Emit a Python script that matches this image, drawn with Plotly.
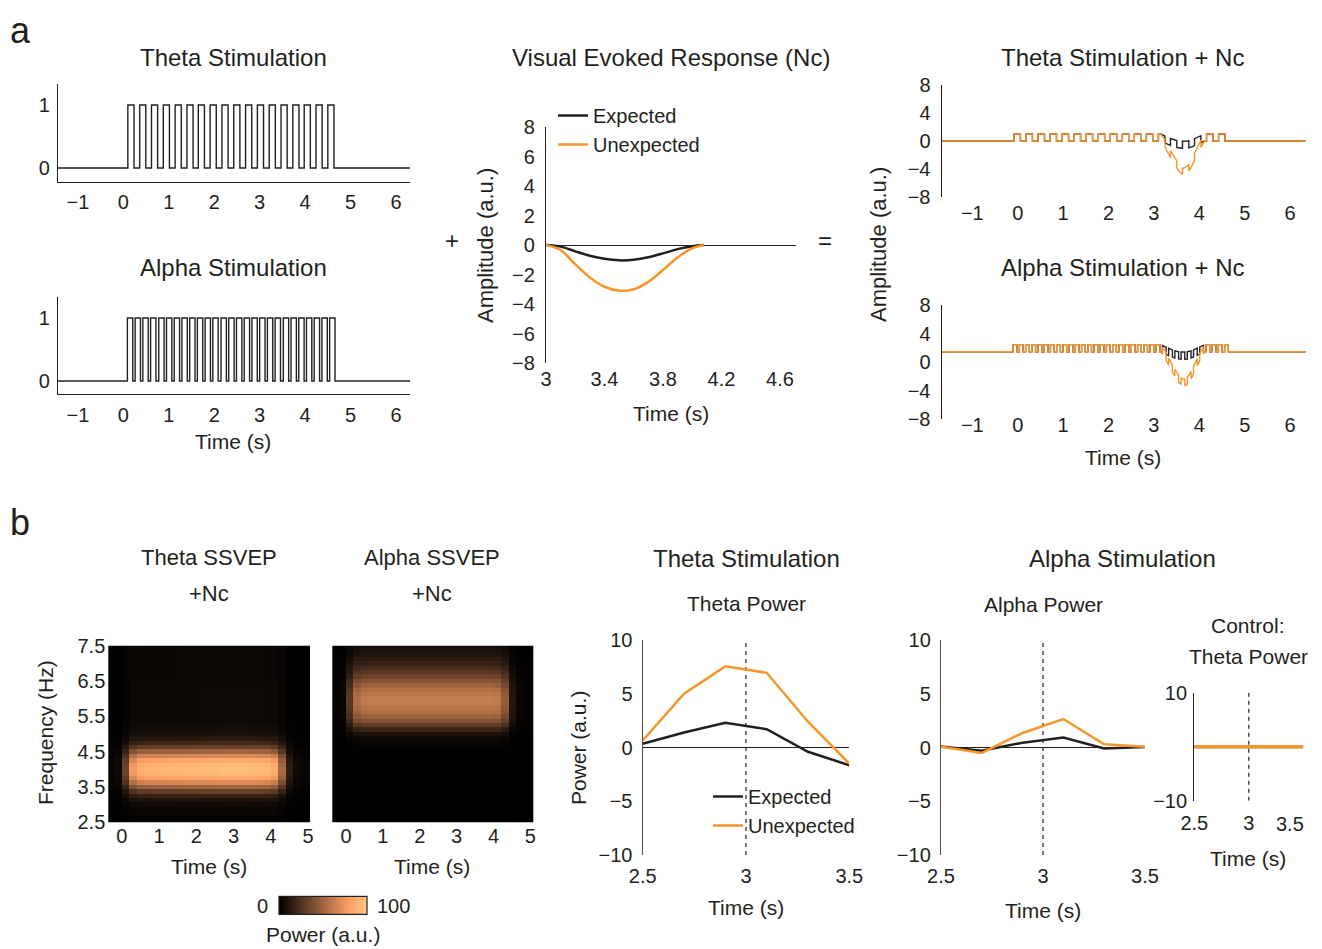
import numpy as np
import plotly.graph_objects as go

W, H = 1322, 949
OFF = 8  # page body margin of the html page, compensated in all placements
FONT = "Liberation Sans, Arial, Helvetica, sans-serif"
BLACK = "#231f20"
ORANGE = "#f5962a"
GRAY = "#4d4d4d"

# ---------------- data ----------------
# (a) stimulation pulse trains (onset times in s, pulse duration in s)
theta_onsets = [0.10, 0.36, 0.62, 0.88, 1.14, 1.40, 1.65, 1.91, 2.17,
                2.43, 2.69, 2.95, 3.21, 3.47, 3.73, 3.98, 4.24, 4.50]
theta_width = 0.135
alpha_onsets = [0.09, 0.26, 0.43, 0.60, 0.78, 0.95, 1.12, 1.29, 1.46,
                1.63, 1.80, 1.97, 2.15, 2.32, 2.49, 2.66, 2.83, 3.00,
                3.17, 3.34, 3.52, 3.69, 3.86, 4.03, 4.20, 4.37, 4.54]
alpha_width = 0.118
stim_span = [-1.437, 6.308]

# visual evoked response (Nc)
nc_time = [3.0, 3.1, 3.2, 3.3, 3.4, 3.5, 3.6, 3.7, 3.8, 3.9, 4.0, 4.08]
nc_expected = [0.0, -0.11, -0.43, -0.73, -0.94, -1.04, -1.0, -0.83, -0.57, -0.28, -0.08, 0.0]
nc_unexpected = [0.0, -0.34, -1.3, -2.2, -2.83, -3.1, -3.0, -2.5, -1.7, -0.84, -0.23, 0.0]
nc_span = [3.0, 4.708]

# stimulation + Nc panels
comb_span = [-1.674, 6.344]
theta_comb_onsets = [-0.08, 0.185, 0.45, 0.715, 0.98, 1.245, 1.51, 1.775, 2.04,
                     2.305, 2.57, 2.835, 3.10, 3.365, 3.63, 3.895, 4.16, 4.425]
theta_comb_width = 0.14
alpha_comb_onsets = [-0.10, 0.037, 0.174, 0.311, 0.448, 0.585, 0.722, 0.859, 0.996,
                     1.133, 1.27, 1.407, 1.544, 1.681, 1.818, 1.955, 2.092, 2.229,
                     2.366, 2.503, 2.64, 2.777, 2.914, 3.051, 3.188, 3.325, 3.462,
                     3.599, 3.736, 3.873, 4.01, 4.147, 4.284, 4.421, 4.558]
alpha_comb_width = 0.082
comb_nc_time = [3.15, 3.25, 3.35, 3.45, 3.55, 3.65, 3.75, 3.85, 3.95, 4.05, 4.12]
comb_nc_expected = [0.0, -0.3, -0.6, -0.85, -1.0, -1.05, -1.0, -0.8, -0.5, -0.2, 0.0]
comb_nc_unexpected = [0.0, -0.9, -2.2, -3.3, -4.3, -4.9, -4.5, -3.4, -2.0, -0.7, 0.0]
alpha_comb_baseline = 1.45

# (b) time-frequency maps
hm_time = [-0.3, -0.1, 0.1, 0.3, 0.5, 0.7, 0.9, 1.1, 1.3, 1.5, 1.7, 1.9, 2.1, 2.3,
           2.5, 2.7, 2.9, 3.1, 3.3, 3.5, 3.7, 3.9, 4.1, 4.3, 4.5, 4.7, 4.9, 5.1]
hm_freq = [2.5, 2.625, 2.75, 2.875, 3.0, 3.125, 3.25, 3.375, 3.5, 3.625, 3.75,
           3.875, 4.0, 4.125, 4.25, 4.375, 4.5, 4.625, 4.75, 4.875, 5.0, 5.125,
           5.25, 5.375, 5.5, 5.625, 5.75, 5.875, 6.0, 6.125, 6.25, 6.375, 6.5,
           6.625, 6.75, 6.875, 7.0, 7.125, 7.25, 7.375, 7.5]
theta_freq_profile = [0.02, 0.02, 0.03, 0.04, 0.06, 0.10, 0.18, 0.33, 0.52, 0.72, 0.88,
                      0.97, 1.0, 0.97, 0.88, 0.72, 0.52, 0.34, 0.21, 0.13, 0.09, 0.07,
                      0.06, 0.05, 0.05, 0.05, 0.05, 0.05, 0.05, 0.05, 0.05, 0.05, 0.04,
                      0.04, 0.04, 0.04, 0.04, 0.04, 0.04, 0.04, 0.04]
theta_time_env = [0.03, 0.05, 0.35, 0.80, 0.92, 0.94, 0.95, 0.95, 0.96, 0.96, 0.97, 0.97,
                  0.98, 0.98, 0.99, 1.0, 1.0, 1.0, 1.0, 0.99, 0.98, 0.96, 0.90, 0.55,
                  0.15, 0.05, 0.03, 0.03]
theta_peak = 97
alpha_freq_profile = [0.01, 0.01, 0.01, 0.01, 0.01, 0.01, 0.01, 0.01, 0.01, 0.01, 0.01,
                      0.01, 0.01, 0.01, 0.01, 0.01, 0.01, 0.02, 0.04, 0.08, 0.15, 0.30,
                      0.50, 0.68, 0.80, 0.90, 0.96, 1.0, 1.0, 0.97, 0.90, 0.80, 0.68,
                      0.56, 0.45, 0.36, 0.28, 0.22, 0.17, 0.13, 0.10]
alpha_time_env = [0.03, 0.05, 0.45, 0.88, 0.97, 1.0, 1.0, 1.0, 1.0, 1.0, 1.0, 1.0,
                  1.0, 1.0, 1.0, 1.0, 1.0, 1.0, 1.0, 1.0, 1.0, 1.0, 0.98, 0.75,
                  0.20, 0.05, 0.03, 0.03]
alpha_peak = 62

# (b) power time courses
power_time = [2.5, 2.7, 2.9, 3.1, 3.3, 3.5]
theta_power_expected = [0.35, 1.4, 2.3, 1.7, -0.4, -1.65]
theta_power_unexpected = [0.65, 5.0, 7.55, 6.95, 2.4, -1.5]
alpha_power_expected = [0.1, -0.3, 0.45, 0.93, -0.1, 0.05]
alpha_power_unexpected = [0.06, -0.5, 1.35, 2.65, 0.3, 0.06]
control_expected = [0.0, 0.0, 0.0, 0.0, 0.0, 0.0]
control_unexpected = [0.0, 0.0, 0.0, 0.0, 0.0, 0.0]
event_time = 3.0


# ---------------- helpers ----------------
def pulse_train(onsets, width, span):
    xs, ys = [span[0]], [0]
    for o in onsets:
        xs += [o, o + width]
        ys += [1, 0]
    xs.append(span[1]); ys.append(0)
    return xs, ys


def combined(onsets, width, span, nct, ncv, base):
    def nc(t):
        return float(np.interp(t, nct, ncv, left=0.0, right=0.0))

    def level(t):
        return 1.0 if any(o <= t < o + width for o in onsets) else 0.0

    pts = [(span[0], 0, base)]
    k = 1
    for o in onsets:
        for te, b, a in ((o, 0, 1), (o + width, 1, 0)):
            pts.append((te, k, base + b + nc(te))); k += 1
            pts.append((te, k, base + a + nc(te))); k += 1
    for t in nct:
        pts.append((t, 0, base + level(t) + nc(t)))
    pts.append((span[1], 10**6, base))
    pts.sort(key=lambda p: (p[0], p[1]))
    return [p[0] for p in pts], [p[2] for p in pts]


def fx(px):
    return (px - OFF) / W


def fy(py):
    return 1 - (py - OFF) / H


def xd(a, b):
    return [fx(a), fx(b)]


def yd(top, bottom):
    return [fy(bottom), fy(top)]


def minus(v):
    s = ("%g" % v)
    return s.replace("-", "\u2212")


TICKFONT = dict(size=20, family=FONT, color=BLACK)


def axis(domain, rng, anchor, **kw):
    d = dict(domain=domain, range=rng, anchor=anchor, showgrid=False, zeroline=False,
             showline=False, ticks="", tickfont=TICKFONT, fixedrange=True)
    d.update(kw)
    if "tickvals" in d and "ticktext" not in d:
        d["ticktext"] = [minus(v) for v in d["tickvals"]]
    return d


fig = go.Figure()

# ---- A1, A2 stimulation
for i, (ons, wid) in ((1, (theta_onsets, theta_width)), (2, (alpha_onsets, alpha_width))):
    xs, ys = pulse_train(ons, wid, stim_span)
    fig.add_trace(go.Scatter(x=xs, y=ys, mode="lines", line=dict(color=BLACK, width=1.4, shape="hv"),
                             showlegend=False, xaxis="x%d" % i, yaxis="y%d" % i, hoverinfo="skip"))

# ---- A3 Nc
fig.add_trace(go.Scatter(x=nc_time, y=nc_expected, mode="lines", name="Expected",
                         line=dict(color=BLACK, width=2.5, shape="spline"), xaxis="x3", yaxis="y3",
                         legend="legend"))
fig.add_trace(go.Scatter(x=nc_time, y=nc_unexpected, mode="lines", name="Unexpected",
                         line=dict(color=ORANGE, width=2.5, shape="spline"), xaxis="x3", yaxis="y3",
                         legend="legend"))

# ---- A4, A5 combined
for i, (ons, wid, base) in ((4, (theta_comb_onsets, theta_comb_width, 0.0)),
                            (5, (alpha_comb_onsets, alpha_comb_width, alpha_comb_baseline))):
    for vals, col in ((comb_nc_expected, BLACK), (comb_nc_unexpected, ORANGE)):
        xs, ys = combined(ons, wid, comb_span, comb_nc_time, vals, base)
        fig.add_trace(go.Scatter(x=xs, y=ys, mode="lines", line=dict(color=col, width=1.4),
                                 showlegend=False, xaxis="x%d" % i, yaxis="y%d" % i, hoverinfo="skip"))

# ---- B1, B2 heatmaps
for i, (fp, te, pk) in ((6, (theta_freq_profile, theta_time_env, theta_peak)),
                        (7, (alpha_freq_profile, alpha_time_env, alpha_peak))):
    z = pk * np.outer(np.array(fp), np.array(te))
    fig.add_trace(go.Heatmap(x=hm_time, y=hm_freq, z=z, coloraxis="coloraxis",
                             xaxis="x%d" % i, yaxis="y%d" % i, hoverinfo="skip"))

# ---- B3, B4, B5 power
for i, (ex, un, lw, leg) in ((8, (theta_power_expected, theta_power_unexpected, 2.5, True)),
                             (9, (alpha_power_expected, alpha_power_unexpected, 2.5, False)),
                             (10, (control_expected, control_unexpected, 3.2, False))):
    fig.add_trace(go.Scatter(x=[event_time, event_time], y=[-10, 10], mode="lines",
                             line=dict(color=BLACK, width=1.2, dash="4px,4px"), showlegend=False,
                             xaxis="x%d" % i, yaxis="y%d" % i, hoverinfo="skip"))
    fig.add_trace(go.Scatter(x=power_time, y=ex, mode="lines", name="Expected",
                             line=dict(color=BLACK, width=lw), showlegend=leg, legend="legend2",
                             xaxis="x%d" % i, yaxis="y%d" % i))
    fig.add_trace(go.Scatter(x=power_time, y=un, mode="lines", name="Unexpected",
                             line=dict(color=ORANGE, width=lw), showlegend=leg, legend="legend2",
                             xaxis="x%d" % i, yaxis="y%d" % i))

# ---------------- axes ----------------
lay = {}
line_k = dict(showline=True, linecolor=BLACK, linewidth=1.4)
xt8 = [-1, 0, 1, 2, 3, 4, 5, 6]
# A1
lay["xaxis"] = axis(xd(58, 410), stim_span, "y", tickvals=xt8, ticklabelstandoff=2, **line_k)
lay["yaxis"] = axis(yd(84, 182), [-0.222, 1.333], "x", tickvals=[0, 1], ticklabelstandoff=3, **line_k)
# A2
lay["xaxis2"] = axis(xd(58, 410), stim_span, "y2", tickvals=xt8, ticklabelstandoff=3, **line_k)
lay["yaxis2"] = axis(yd(296.7, 394), [-0.206, 1.338], "x2", tickvals=[0, 1], ticklabelstandoff=3, **line_k)
# A3
lay["xaxis3"] = axis(xd(546, 795.7), nc_span, "y3", tickvals=[3, 3.4, 3.8, 4.2, 4.6],
                     ticklabelstandoff=2)
lay["yaxis3"] = axis(yd(127, 363), [-8, 8], "x3", tickvals=[-8, -6, -4, -2, 0, 2, 4, 6, 8],
                     ticklabelstandoff=6, zeroline=True, zerolinecolor=BLACK, zerolinewidth=1.3,
                     **line_k)
# A4, A5
lay["xaxis4"] = axis(xd(941.7, 1305.7), comb_span, "y4", tickvals=xt8, ticklabelstandoff=2)
lay["yaxis4"] = axis(yd(85, 197), [-8, 8], "x4", tickvals=[-8, -4, 0, 4, 8], ticklabelstandoff=6, **line_k)
lay["xaxis5"] = axis(xd(941.7, 1305.7), comb_span, "free", position=fy(410.5), tickvals=xt8)
lay["yaxis5"] = axis(yd(305, 419.3), [-8, 8], "x5", tickvals=[-8, -4, 0, 4, 8], ticklabelstandoff=6, **line_k)
# B1, B2
lay["xaxis6"] = axis(xd(108.3, 310), [-0.36, 5.05], "free", position=fy(821.5),
                     tickvals=[0, 1, 2, 3, 4, 5])
lay["yaxis6"] = axis(yd(645.7, 822.3), [2.5, 7.5], "x6", tickvals=[2.5, 3.5, 4.5, 5.5, 6.5, 7.5],
                     ticklabelstandoff=2)
lay["xaxis7"] = axis(xd(332.3, 533.3), [-0.37, 5.08], "free", position=fy(821.5),
                     tickvals=[0, 1, 2, 3, 4, 5])
lay["yaxis7"] = axis(yd(645.7, 822.3), [2.5, 7.5], "x7", showticklabels=False)
# B3, B4, B5
gline = dict(showline=True, linecolor=GRAY, linewidth=1.4)
lay["xaxis8"] = axis(xd(642.7, 849.3), [2.5, 3.5], "y8", tickvals=[2.5, 3, 3.5], ticklabelstandoff=7)
lay["yaxis8"] = axis(yd(640, 855), [-10, 10], "x8", tickvals=[-10, -5, 0, 5, 10], ticklabelstandoff=5,
                     zeroline=True, zerolinecolor=BLACK, zerolinewidth=1.2, **gline)
lay["xaxis9"] = axis(xd(941, 1145), [2.5, 3.5], "y9", tickvals=[2.5, 3, 3.5], ticklabelstandoff=7)
lay["yaxis9"] = axis(yd(640, 855), [-10, 10], "x9", tickvals=[-10, -5, 0, 5, 10], ticklabelstandoff=5,
                     zeroline=True, zerolinecolor=BLACK, zerolinewidth=1.2, **gline)
lay["xaxis10"] = axis(xd(1194.3, 1303.3), [2.5, 3.5], "y10", tickvals=[2.5, 3],
                      ticklabelstandoff=8)
lay["yaxis10"] = axis(yd(692.7, 800.7), [-10, 10], "x10", tickvals=[-10, 10], ticklabelstandoff=2,
                      **dict(showline=True, linecolor=BLACK, linewidth=1.4))

# ---------------- annotations ----------------
ann = []


def txt(s, x, y, size=21, angle=0):
    ann.append(dict(text=s, x=fx(x), y=fy(y), xref="paper", yref="paper", showarrow=False,
                    font=dict(size=size, family=FONT, color=BLACK), xanchor="center",
                    yanchor="middle", textangle=angle))


TITLE = 24
SUB = 21
AX = 21
txt("a", 20, 30, 36)
txt("b", 20, 522, 36)
txt("Theta Stimulation", 233, 57, TITLE)
txt("Alpha Stimulation", 233, 267, TITLE)
txt("Time (s)", 233, 442, AX)
txt("Visual Evoked Response (Nc)", 671, 57, TITLE)
txt("Amplitude (a.u.)", 485, 245, 22, -90)
txt("Time (s)", 671, 413, AX)
txt("+", 452, 240, 24)
txt("=", 825, 240, 24)
txt("Theta Stimulation + Nc", 1122, 57, TITLE)
txt("Alpha Stimulation + Nc", 1122, 267, TITLE)
txt("Amplitude (a.u.)", 878, 245, 22, -90)
txt("Time (s)", 1123, 457, AX)
txt("Theta SSVEP", 209, 557, 22)
txt("+Nc", 209, 593, 22)
txt("Alpha SSVEP", 432, 557, 22)
txt("+Nc", 432, 593, 22)
txt("Frequency (Hz)", 45, 733, AX, -90)
txt("Time (s)", 209, 866, AX)
txt("Time (s)", 432, 866, AX)
txt("0", 262, 906, 20)
txt("100", 393, 906, 20)
txt("Power (a.u.)", 323, 934, AX)
txt("Theta Stimulation", 746, 558, TITLE)
txt("Theta Power", 746, 603, SUB)
txt("Power (a.u.)", 578, 748, AX, -90)
txt("Time (s)", 746, 907, AX)
txt("Alpha Stimulation", 1122, 558, TITLE)
txt("Alpha Power", 1043, 604, SUB)
txt("Time (s)", 1043, 910, AX)
txt("Control:", 1248, 625, SUB)
txt("Theta Power", 1248, 656, SUB)
txt("3.5", 1290, 824, 20)  # last tick label of the control panel (set flush with the axis end)
txt("Time (s)", 1248, 858, AX)

copper = [[0.0, "rgb(0,0,0)"], [0.2, "rgb(64,40,25)"], [0.4, "rgb(128,80,51)"],
          [0.6, "rgb(191,120,76)"], [0.8, "rgb(255,159,101)"], [1.0, "rgb(255,199,127)"]]

legfont = dict(size=20, family=FONT, color=BLACK)
fig.update_layout(
    width=W, height=H, margin=dict(l=0, r=0, t=0, b=0, pad=0, autoexpand=False),
    paper_bgcolor="white", plot_bgcolor="rgba(0,0,0,0)",
    font=dict(family=FONT, color=BLACK),
    annotations=ann,
    coloraxis=dict(cmin=0, cmax=100, colorscale=copper,
                   colorbar=dict(orientation="h", x=fx(323), xanchor="center", y=fy(906),
                                 yanchor="middle", len=88, lenmode="pixels", thickness=18,
                                 thicknessmode="pixels", showticklabels=False, ticks="",
                                 outlinewidth=1.2, outlinecolor=BLACK, xpad=0, ypad=0)),
    legend=dict(x=fx(553), y=fy(96), xanchor="left", yanchor="top", bgcolor="rgba(0,0,0,0)",
                font=legfont, itemwidth=30, tracegroupgap=0),
    legend2=dict(x=fx(708), y=fy(777), xanchor="left", yanchor="top", bgcolor="rgba(0,0,0,0)",
                 font=legfont, itemwidth=30, tracegroupgap=0),
    **lay,
)

fig.write_html("out.html")
